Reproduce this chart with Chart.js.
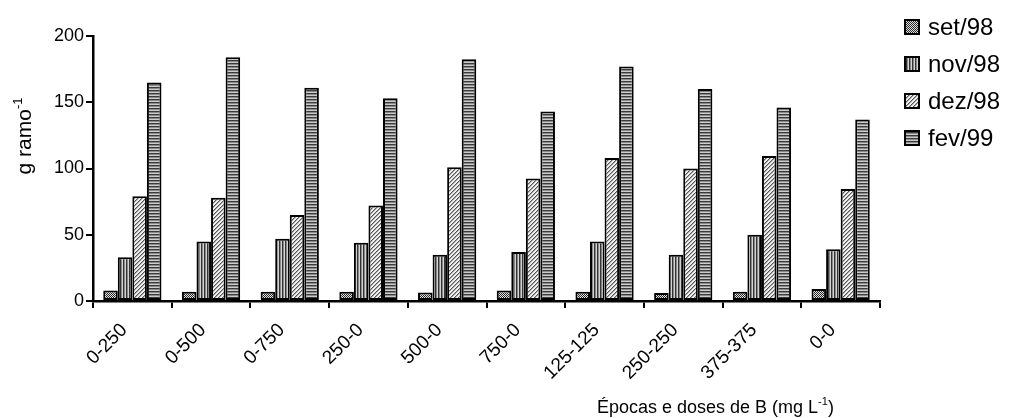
<!DOCTYPE html>
<html>
<head>
<meta charset="utf-8">
<script src="https://cdn.jsdelivr.net/npm/chart.js@4.4.1/dist/chart.umd.min.js"></script>
<style>
  html, body { margin: 0; padding: 0; background: #fff; }
  #wrap { width: 1009px; height: 418px; position: relative; }
</style>
</head>
<body>
<div id="wrap"><canvas id="c" width="1009" height="418"></canvas></div>
<script>
const categories = ['0-250', '0-500', '0-750', '250-0', '500-0', '750-0', '125-125', '250-250', '375-375', '0-0'];
const seriesNames = ['set/98', 'nov/98', 'dez/98', 'fev/99'];
const set98 = [8, 7, 7, 7, 6.5, 8, 7, 6, 7, 9];
const nov98 = [33, 45, 47, 44, 35, 37, 45, 35, 50, 39];
const dez98 = [79, 78, 65, 72, 101, 92.5, 108, 100, 109.5, 84.5];
const fev99 = [165, 184, 161, 153, 182.5, 143, 177, 160, 146, 137];
const yTicks = [0, 50, 100, 150, 200];

function makePattern(kind) {
  const c = document.createElement('canvas');
  const x = c.getContext('2d');
  if (kind === 'set') {
    c.width = 4; c.height = 4;
    x.fillStyle = '#e0e0e0'; x.fillRect(0, 0, 4, 4);
    x.fillStyle = '#2a2a2a';
    for (let i = 0; i < 4; i++) { x.fillRect(i, i, 1, 1); x.fillRect((i + 2) % 4, i, 1, 1); }
  } else if (kind === 'nov') {
    c.width = 3; c.height = 1;
    x.fillStyle = '#333'; x.fillRect(0, 0, 1, 1);
    x.fillStyle = '#888'; x.fillRect(1, 0, 1, 1);
    x.fillStyle = '#d4d4d4'; x.fillRect(2, 0, 1, 1);
  } else if (kind === 'dez') {
    c.width = 4; c.height = 4;
    x.fillStyle = '#f0f0f0'; x.fillRect(0, 0, 4, 4);
    x.fillStyle = '#555';
    for (let i = 0; i < 4; i++) { x.fillRect(3 - i, i, 1, 1); }
    x.fillStyle = '#a8a8a8';
    for (let i = 0; i < 4; i++) { x.fillRect((4 - i) % 4, i, 1, 1); }
  } else {
    c.width = 1; c.height = 3;
    x.fillStyle = '#3a3a3a'; x.fillRect(0, 0, 1, 1);
    x.fillStyle = '#8a8a8a'; x.fillRect(0, 1, 1, 1);
    x.fillStyle = '#cccccc'; x.fillRect(0, 2, 1, 1);
  }
  return x.createPattern(c, 'repeat');
}

const ctx = document.getElementById('c').getContext('2d');
const patterns = [makePattern('set'), makePattern('nov'), makePattern('dez'), makePattern('fev')];
const values = [set98, nov98, dez98, fev99];

const FONT = '"Liberation Sans", Arial, sans-serif';

function drawSupText(c, x, y, parts, size) {
  let cx = x;
  for (const p of parts) {
    if (p.sup) {
      c.font = Math.round(size * 0.62) + 'px ' + FONT;
      c.fillText(p.t, cx, y - size * 0.42);
    } else {
      c.font = size + 'px ' + FONT;
      c.fillText(p.t, cx, y);
    }
    cx += c.measureText(p.t).width;
  }
  return cx - x;
}
function measureSup(c, parts, size) {
  let w = 0;
  for (const p of parts) {
    c.font = (p.sup ? Math.round(size * 0.62) : size) + 'px ' + FONT;
    w += c.measureText(p.t).width;
  }
  return w;
}

const annot = {
  id: 'annot',
  afterDraw(chart) {
    const c = chart.ctx;
    c.save();
    c.fillStyle = '#000';
    c.textBaseline = 'alphabetic';
    c.textAlign = 'left';
    // y title
    const yParts = [{t: 'g ramo'}, {t: '-1', sup: true}];
    const yw = measureSup(c, yParts, 21);
    c.save();
    c.translate(31, 136);
    c.rotate(-Math.PI / 2);
    drawSupText(c, -yw / 2, 0, yParts, 21);
    c.restore();
    // x title
    const xParts = [{t: 'Épocas e doses de B (mg L'}, {t: '-1', sup: true}, {t: ')'}];
    drawSupText(c, 597, 413, xParts, 18);
    // legend
    const lx = 905, ly0 = 27, step = 37, bs = 14;
    c.textBaseline = 'middle';
    for (let i = 0; i < seriesNames.length; i++) {
      const y = ly0 + i * step;
      c.fillStyle = patterns[i];
      c.fillRect(lx, y - bs / 2, bs, bs);
      c.strokeStyle = '#000';
      c.lineWidth = 2;
      c.strokeRect(lx, y - bs / 2, bs, bs);
      c.fillStyle = '#000';
      c.font = '24px ' + FONT;
      c.fillText(seriesNames[i], lx + bs + 9, y + 1);
    }
    c.restore();
  }
};

new Chart(ctx, {
  type: 'bar',
  data: {
    labels: categories,
    datasets: seriesNames.map((n, i) => ({
      label: n,
      data: values[i],
      backgroundColor: patterns[i],
      borderColor: '#000',
      borderWidth: 2,
      borderSkipped: false,
      categoryPercentage: 0.74,
      barPercentage: 1.0
    }))
  },
  options: {
    responsive: false,
    animation: false,
    devicePixelRatio: 1,
    layout: { padding: { left: 0, right: 129, top: 36, bottom: 0 } },
    plugins: { legend: { display: false }, tooltip: { enabled: false } },
    scales: {
      x: {
        offset: true,
        grid: { offset: true, drawOnChartArea: false, drawTicks: true, tickLength: 7, color: '#000', lineWidth: 2 },
        border: { color: '#000', width: 2.5 },
        ticks: { color: '#000', font: { family: FONT, size: 19 }, minRotation: 45, maxRotation: 45, padding: 11, labelOffset: -8 },
        afterFit(s) { s.height = 117; }
      },
      y: {
        min: 0, max: 200,
        afterBuildTicks(s) { s.ticks = yTicks.map(v => ({ value: v })); },
        grid: { drawOnChartArea: false, drawTicks: true, tickLength: 7, color: '#000', lineWidth: 2 },
        border: { color: '#000', width: 2.5 },
        ticks: { color: '#000', font: { family: FONT, size: 18 }, padding: 2 },
        afterFit(s) { s.width = 93; }
      }
    }
  },
  plugins: [annot]
});
</script>
</body>
</html>
